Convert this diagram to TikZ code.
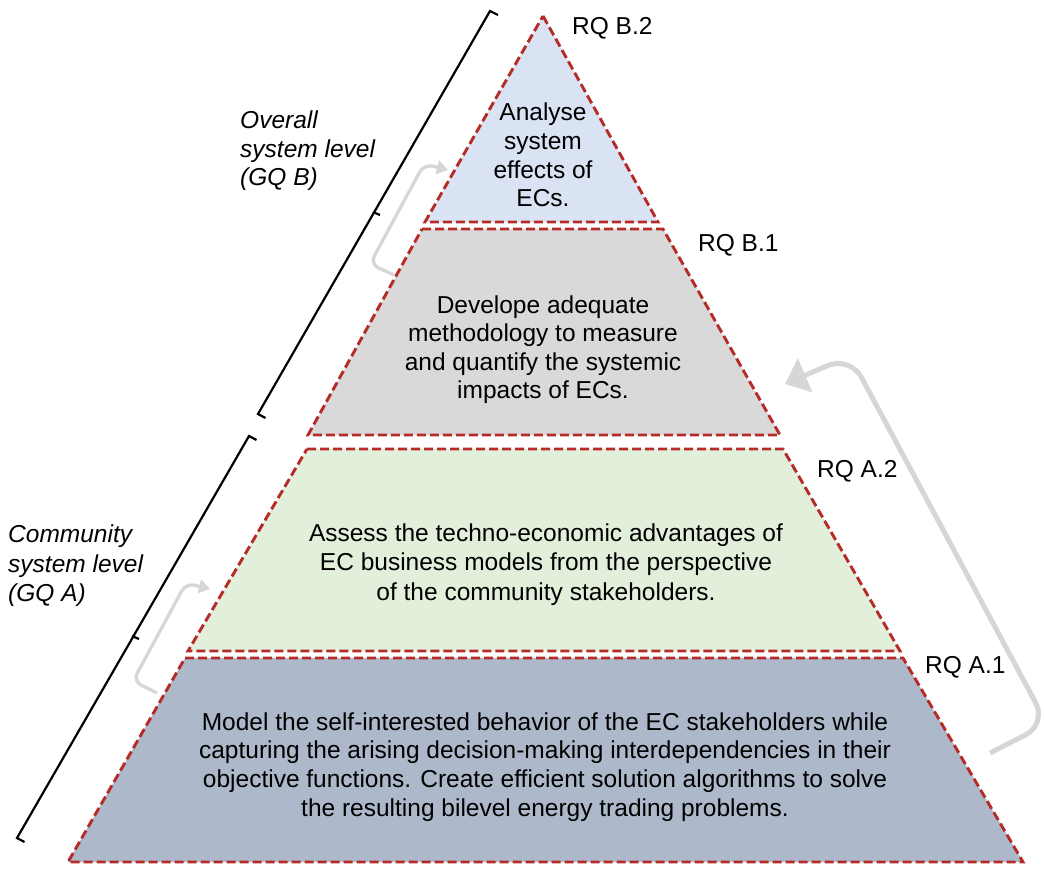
\documentclass[tikz,border=0pt]{standalone}
\usepackage{fontspec}
\setmainfont{Liberation Sans}
\usetikzlibrary{arrows.meta}

\definecolor{edgered}{HTML}{B52B27}
\definecolor{tipblue}{HTML}{DAE3F3}
\definecolor{midgray}{HTML}{D9D9D9}
\definecolor{leafgreen}{HTML}{E2EFDA}
\definecolor{slateblue}{HTML}{ADB9CA}
\definecolor{loopgray}{HTML}{D6D6D6}

\begin{document}
\begin{tikzpicture}[x=1pt, y=-1pt,
  tier/.style={draw=edgered, line width=2.9pt, dash pattern=on 9pt off 4pt, line join=miter},
  body/.style={font=\fontsize{24.5}{28.8}\selectfont, align=center, inner sep=0pt},
  rq/.style={font=\fontsize{24.5}{29}\selectfont, anchor=base west, inner sep=0pt},
  lvl/.style={font=\fontsize{24.5}{29}\selectfont\itshape, align=left, anchor=west, inner sep=0pt},
  backarrow/.style={draw=loopgray, line width=3.3pt, rounded corners=9pt,
    -{Triangle[length=11pt, width=14pt]}},
  bigback/.style={draw=loopgray, line width=5pt, rounded corners=24pt,
    -{Triangle[length=22pt, width=36pt]}},
  brk/.style={draw=black, line width=2.2pt}]

\useasboundingbox (0,0) rectangle (1044,871);

% pyramid tiers, top to bottom
\coordinate (apex) at (543,16);
\coordinate (b2l) at (425,222);  \coordinate (b2r) at (658,222);
\coordinate (b1tl) at (422,229); \coordinate (b1tr) at (663,229);
\coordinate (b1bl) at (308,435); \coordinate (b1br) at (780,435);
\coordinate (a2tl) at (307,449); \coordinate (a2tr) at (783,449);
\coordinate (a2bl) at (188,651); \coordinate (a2br) at (900,651);
\coordinate (a1tl) at (185,658); \coordinate (a1tr) at (903,658);
\coordinate (a1bl) at (68,862);  \coordinate (a1br) at (1023,862);

\draw[tier, fill=tipblue]   (apex) -- (b2r) -- (b2l) -- cycle;
\draw[tier, fill=midgray]   (b1tl) -- (b1tr) -- (b1br) -- (b1bl) -- cycle;
\draw[tier, fill=leafgreen] (a2tl) -- (a2tr) -- (a2br) -- (a2bl) -- cycle;
\draw[tier, fill=slateblue] (a1tl) -- (a1tr) -- (a1br) -- (a1bl) -- cycle;

% tier texts
\node[body] (tB2) at (543,155) {Analyse\\system\\effects of\\ECs.};
\node[body, font=\fontsize{24.5}{28.4}\selectfont] (tB1) at (543,349.5) {Develope adequate\\methodology to measure\\and quantify the systemic\\impacts of ECs.};
\node[body, font=\fontsize{24.5}{29.2}\selectfont] (tA2) at (546,564.5) {Assess the techno-economic advantages of\\EC business models from the perspective\\of the community stakeholders.};
\node[body] (tA1) at (545,767) {Model the self-interested behavior of the EC stakeholders while\\capturing the arising decision-making interdependencies in their\\objective functions. Create efficient solution algorithms to solve\\the resulting bilevel energy trading problems.};

% research question labels
\node[rq] (qB2) at (572,34)  {RQ B.2};
\node[rq] (qB1) at (698,251) {RQ B.1};
\node[rq] (qA2) at (817,477) {RQ A.2};
\node[rq] (qA1) at (925,673) {RQ A.1};

% level labels
\node[lvl, font=\fontsize{24.5}{28.5}\selectfont\itshape] (lvB) at (240,151) {Overall\\system level\\(GQ B)};
\node[lvl, font=\fontsize{24.5}{29.5}\selectfont\itshape] (lvA) at (8,566) {Community\\system level\\(GQ A)};

% level brackets
\coordinate (ubt) at (490,11);  \coordinate (ubb) at (258,414);
\coordinate (lbt) at (249,436); \coordinate (lbb) at (17,838);
\draw[brk] (498,15) -- (ubt) -- (ubb) -- (265.5,418);
\draw[brk] (373,212) -- (380,215);
\draw[brk] (256.5,440) -- (lbt) -- (lbb) -- (24.5,842);
\draw[brk] (132,636) -- (139,639);

% feedback arrows
\coordinate (fb1s) at (394,275); \coordinate (fb1e) at (448,170);
\draw[backarrow] (fb1s) -- (370,264) -- (424,164) -- (fb1e);
\coordinate (fa1s) at (157,693); \coordinate (fa1e) at (210,589);
\draw[backarrow] (fa1s) -- (133,681) -- (186,583) -- (fa1e);
\coordinate (fbs) at (990,753); \coordinate (fbe) at (785,384);
\draw[bigback] (fbs) -- (1047,724) -- (850,356) -- (fbe);

\end{tikzpicture}
\end{document}
